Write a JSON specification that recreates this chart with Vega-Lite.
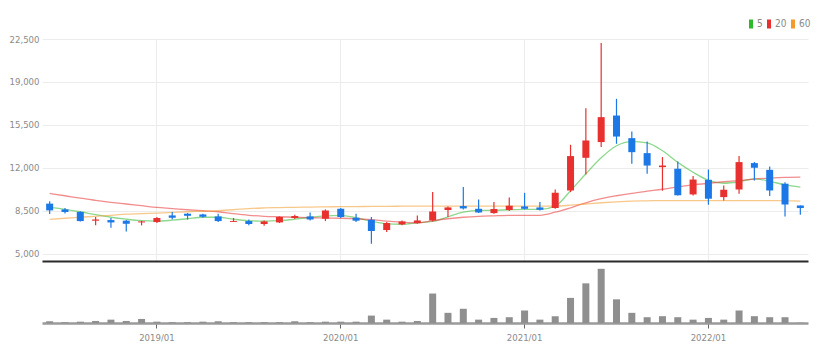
{
  "$schema": "https://vega.github.io/schema/vega-lite/v6.json",
  "background": "white",
  "padding": {"left": 9, "top": 19, "right": 17, "bottom": 5},
  "bounds": "flush",
  "spacing": 1,
  "config": {
    "view": {"stroke": null},
    "font": "DejaVu Sans Condensed, Liberation Sans, sans-serif",
    "axis": {"labelFont": "DejaVu Sans Condensed, Liberation Sans, sans-serif", "labelColor": "#8a8a8a", "title": null},
    "legend": {"labelFont": "DejaVu Sans Condensed, Liberation Sans, sans-serif"}
  },
  "datasets": {
    "candles": [
      {"month": "2018/06", "open": 9100, "high": 9300, "low": 8250, "close": 8550, "volume": 17, "ma5": 8800, "ma20": 9930, "ma60": 7810},
      {"month": "2018/07", "open": 8630, "high": 8740, "low": 8300, "close": 8420, "volume": 8, "ma5": 8640, "ma20": 9740, "ma60": 7910},
      {"month": "2018/08", "open": 8420, "high": 8470, "low": 7650, "close": 7680, "volume": 13, "ma5": 8440, "ma20": 9540, "ma60": 7990},
      {"month": "2018/09", "open": 7710, "high": 8010, "low": 7330, "close": 7810, "volume": 20, "ma5": 8200, "ma20": 9370, "ma60": 8070},
      {"month": "2018/10", "open": 7760, "high": 7930, "low": 7140, "close": 7570, "volume": 33, "ma5": 7990, "ma20": 9210, "ma60": 8150},
      {"month": "2018/11", "open": 7710, "high": 7760, "low": 6840, "close": 7460, "volume": 20, "ma5": 7830, "ma20": 9070, "ma60": 8240},
      {"month": "2018/12", "open": 7570, "high": 7700, "low": 7330, "close": 7650, "volume": 40, "ma5": 7710, "ma20": 8930, "ma60": 8280},
      {"month": "2019/01", "open": 7600, "high": 8010, "low": 7520, "close": 7930, "volume": 13, "ma5": 7670, "ma20": 8790, "ma60": 8330},
      {"month": "2019/02", "open": 8140, "high": 8410, "low": 7810, "close": 7950, "volume": 8, "ma5": 7750, "ma20": 8700, "ma60": 8380},
      {"month": "2019/03", "open": 8280, "high": 8330, "low": 7810, "close": 8110, "volume": 8, "ma5": 7870, "ma20": 8600, "ma60": 8440},
      {"month": "2019/04", "open": 8220, "high": 8280, "low": 7950, "close": 8030, "volume": 13, "ma5": 7990, "ma20": 8520, "ma60": 8480},
      {"month": "2019/05", "open": 8060, "high": 8280, "low": 7600, "close": 7680, "volume": 17, "ma5": 7990, "ma20": 8440, "ma60": 8520},
      {"month": "2019/06", "open": 7610, "high": 7930, "low": 7600, "close": 7680, "volume": 8, "ma5": 7830, "ma20": 8280, "ma60": 8600},
      {"month": "2019/07", "open": 7680, "high": 7810, "low": 7330, "close": 7440, "volume": 8, "ma5": 7710, "ma20": 8150, "ma60": 8700},
      {"month": "2019/08", "open": 7440, "high": 7730, "low": 7300, "close": 7650, "volume": 8, "ma5": 7670, "ma20": 8070, "ma60": 8750},
      {"month": "2019/09", "open": 7570, "high": 8060, "low": 7520, "close": 8010, "volume": 8, "ma5": 7710, "ma20": 8030, "ma60": 8780},
      {"month": "2019/10", "open": 7930, "high": 8200, "low": 7850, "close": 8090, "volume": 17, "ma5": 7830, "ma20": 7990, "ma60": 8800},
      {"month": "2019/11", "open": 8060, "high": 8380, "low": 7730, "close": 7810, "volume": 8, "ma5": 7990, "ma20": 7950, "ma60": 8820},
      {"month": "2019/12", "open": 7870, "high": 8630, "low": 7680, "close": 8540, "volume": 13, "ma5": 8110, "ma20": 7930, "ma60": 8840},
      {"month": "2020/01", "open": 8680, "high": 8740, "low": 7930, "close": 8010, "volume": 13, "ma5": 8150, "ma20": 7910, "ma60": 8850},
      {"month": "2020/02", "open": 7950, "high": 8280, "low": 7600, "close": 7710, "volume": 13, "ma5": 7950, "ma20": 7870, "ma60": 8860},
      {"month": "2020/03", "open": 7790, "high": 8010, "low": 5840, "close": 6870, "volume": 73, "ma5": 7670, "ma20": 7790, "ma60": 8870},
      {"month": "2020/04", "open": 6950, "high": 7600, "low": 6790, "close": 7520, "volume": 33, "ma5": 7460, "ma20": 7670, "ma60": 8880},
      {"month": "2020/05", "open": 7410, "high": 7730, "low": 7330, "close": 7650, "volume": 13, "ma5": 7420, "ma20": 7590, "ma60": 8890},
      {"month": "2020/06", "open": 7520, "high": 8140, "low": 7460, "close": 7730, "volume": 20, "ma5": 7540, "ma20": 7540, "ma60": 8890},
      {"month": "2020/07", "open": 7730, "high": 10040, "low": 7650, "close": 8460, "volume": 290, "ma5": 7650, "ma20": 7710, "ma60": 8900},
      {"month": "2020/08", "open": 8580, "high": 8870, "low": 8010, "close": 8790, "volume": 100, "ma5": 8030, "ma20": 7870, "ma60": 8900},
      {"month": "2020/09", "open": 8900, "high": 10450, "low": 8630, "close": 8710, "volume": 140, "ma5": 8400, "ma20": 7990, "ma60": 8900},
      {"month": "2020/10", "open": 8680, "high": 9440, "low": 8330, "close": 8380, "volume": 33, "ma5": 8550, "ma20": 8070, "ma60": 8900},
      {"month": "2020/11", "open": 8330, "high": 9230, "low": 8280, "close": 8660, "volume": 50, "ma5": 8560, "ma20": 8110, "ma60": 8900},
      {"month": "2020/12", "open": 8580, "high": 9600, "low": 8500, "close": 8930, "volume": 57, "ma5": 8600, "ma20": 8140, "ma60": 8900},
      {"month": "2021/01", "open": 8870, "high": 9980, "low": 8630, "close": 8680, "volume": 123, "ma5": 8630, "ma20": 8140, "ma60": 8900},
      {"month": "2021/02", "open": 8790, "high": 9230, "low": 8540, "close": 8600, "volume": 33, "ma5": 8630, "ma20": 8150, "ma60": 8900},
      {"month": "2021/03", "open": 8740, "high": 10250, "low": 8680, "close": 9980, "volume": 67, "ma5": 8900, "ma20": 8400, "ma60": 8900},
      {"month": "2021/04", "open": 10170, "high": 13890, "low": 10040, "close": 12970, "volume": 247, "ma5": 10150, "ma20": 8760, "ma60": 8970},
      {"month": "2021/05", "open": 12830, "high": 16870, "low": 11470, "close": 14240, "volume": 390, "ma5": 11530, "ma20": 9170, "ma60": 9070},
      {"month": "2021/06", "open": 14110, "high": 22180, "low": 13700, "close": 16140, "volume": 533, "ma5": 12830, "ma20": 9500, "ma60": 9170},
      {"month": "2021/07", "open": 16270, "high": 17630, "low": 13970, "close": 14560, "volume": 233, "ma5": 13810, "ma20": 9740, "ma60": 9250},
      {"month": "2021/08", "open": 14430, "high": 14970, "low": 12340, "close": 13290, "volume": 100, "ma5": 14150, "ma20": 9940, "ma60": 9310},
      {"month": "2021/09", "open": 13210, "high": 14150, "low": 11530, "close": 12200, "volume": 57, "ma5": 14050, "ma20": 10110, "ma60": 9330},
      {"month": "2021/10", "open": 12070, "high": 12890, "low": 10150, "close": 12200, "volume": 67, "ma5": 13400, "ma20": 10270, "ma60": 9350},
      {"month": "2021/11", "open": 11940, "high": 12530, "low": 9760, "close": 9780, "volume": 57, "ma5": 12460, "ma20": 10470, "ma60": 9350},
      {"month": "2021/12", "open": 9850, "high": 11340, "low": 9760, "close": 11060, "volume": 33, "ma5": 11650, "ma20": 10630, "ma60": 9350},
      {"month": "2022/01", "open": 11040, "high": 11880, "low": 9010, "close": 9500, "volume": 50, "ma5": 11000, "ma20": 10760, "ma60": 9350},
      {"month": "2022/02", "open": 9630, "high": 10580, "low": 9360, "close": 10230, "volume": 33, "ma5": 10760, "ma20": 10880, "ma60": 9350},
      {"month": "2022/03", "open": 10250, "high": 12970, "low": 9900, "close": 12480, "volume": 123, "ma5": 10880, "ma20": 10980, "ma60": 9350},
      {"month": "2022/04", "open": 12400, "high": 12480, "low": 10980, "close": 12020, "volume": 67, "ma5": 11120, "ma20": 11100, "ma60": 9350},
      {"month": "2022/05", "open": 11850, "high": 12120, "low": 9720, "close": 10170, "volume": 57, "ma5": 10920, "ma20": 11180, "ma60": 9350},
      {"month": "2022/06", "open": 10720, "high": 10850, "low": 8060, "close": 9030, "volume": 57, "ma5": 10630, "ma20": 11240, "ma60": 9330},
      {"month": "2022/07", "open": 8950, "high": 8950, "low": 8200, "close": 8740, "volume": 3, "ma5": 10450, "ma20": 11260, "ma60": 9310}
    ]
  },
  "vconcat": [
    {
      "width": 766,
      "height": 222,
      "data": {"name": "candles"},
      "encoding": {
        "x": {
          "field": "month", "type": "ordinal",
          "scale": {"type": "band", "paddingInner": 0, "paddingOuter": 0},
          "axis": {"values": ["2019/01", "2020/01", "2021/01", "2022/01"], "bandPosition": 0.5, "labels": false, "ticks": false, "grid": true, "gridColor": "#ececec", "domainColor": "#2b2b2b", "domainWidth": 2, "title": null}
        }
      },
      "layer": [
        {
          "mark": {"type": "line", "strokeWidth": 1.3, "strokeOpacity": 0.55, "interpolate": "monotone"},
          "encoding": {
            "y": {
              "field": "ma5", "type": "quantitative",
              "scale": {"domain": [4430, 22500], "nice": false, "zero": false},
              "axis": {"values": [5000, 8500, 12000, 15500, 19000, 22500], "format": ",.0f", "domain": false, "ticks": false, "gridColor": "#ececec", "labelPadding": 3, "labelFontSize": 9.5, "title": null}
            },
            "color": {
              "datum": "5",
              "scale": {"domain": ["5", "20", "60"], "range": ["#2db82d", "#e8302f", "#f39a2a"]},
              "legend": {
                "orient": "none", "legendX": 704, "legendY": -20, "direction": "horizontal", "title": null,
                "symbolType": "M-0.8,-1.8H0.8V1.8H-0.8Z", "symbolSize": 25, "labelFontSize": 10, "labelColor": "#8a8a8a",
                "columnPadding": 1, "labelOffset": 1,
                "encode": {"symbols": {"update": {"fill": {"scale": "color", "field": "value"}, "strokeWidth": {"value": 0}, "opacity": {"value": 1}}}}
              }
            }
          }
        },
        {
          "mark": {"type": "line", "strokeWidth": 1.3, "strokeOpacity": 0.55, "interpolate": "monotone"},
          "encoding": {"y": {"field": "ma20", "type": "quantitative"}, "color": {"datum": "20"}}
        },
        {
          "mark": {"type": "line", "strokeWidth": 1.3, "strokeOpacity": 0.55, "interpolate": "monotone"},
          "encoding": {"y": {"field": "ma60", "type": "quantitative"}, "color": {"datum": "60"}}
        },
        {
          "mark": {"type": "rule", "strokeWidth": 1.2},
          "encoding": {
            "y": {"field": "low", "type": "quantitative"},
            "y2": {"field": "high"},
            "color": {"condition": {"test": "datum.close > datum.open", "value": "#e8302f"}, "value": "#1b78e6"}
          }
        },
        {
          "mark": {"type": "bar", "width": 7},
          "encoding": {
            "y": {"field": "open", "type": "quantitative"},
            "y2": {"field": "close"},
            "color": {"condition": {"test": "datum.close > datum.open", "value": "#e8302f"}, "value": "#1b78e6"}
          }
        }
      ]
    },
    {
      "width": 766,
      "height": 61,
      "data": {"name": "candles"},
      "mark": {"type": "bar", "width": 7, "color": "#8f8f8f"},
      "encoding": {
        "x": {
          "field": "month", "type": "ordinal",
          "scale": {"type": "band", "paddingInner": 0, "paddingOuter": 0},
          "axis": {"values": ["2019/01", "2020/01", "2021/01", "2022/01"], "bandPosition": 0.5, "labelAngle": 0, "grid": false, "domainColor": "#9a9a9a", "domainWidth": 2.5, "tickColor": "#666666", "tickSize": 5, "tickWidth": 1, "labelPadding": 4, "labelFontSize": 9.5, "title": null}
        },
        "y": {"field": "volume", "type": "quantitative", "scale": {"domain": [0, 600]}, "axis": null}
      }
    }
  ]
}
